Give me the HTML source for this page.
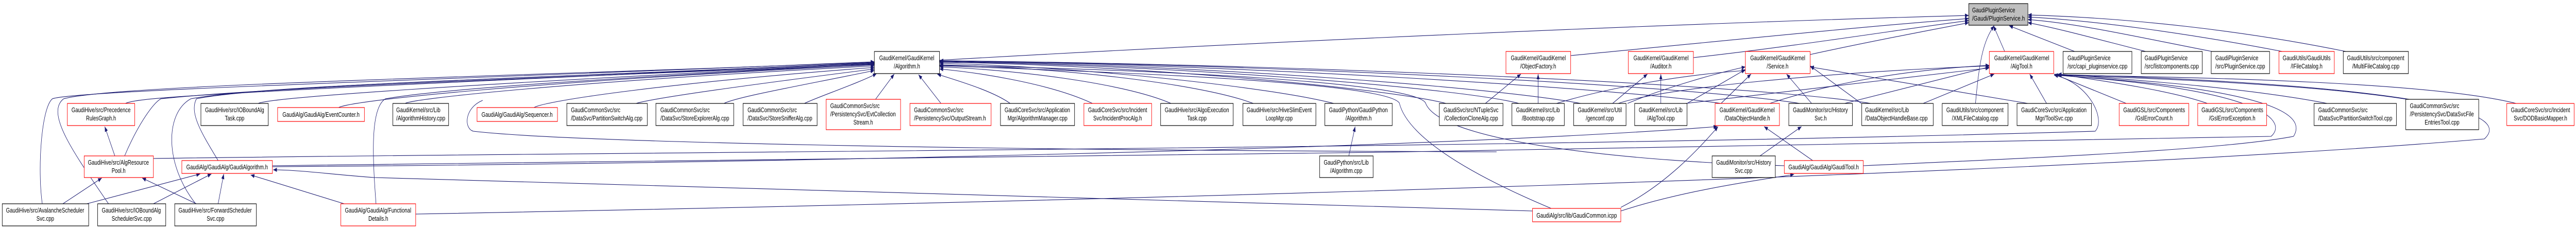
<!DOCTYPE html>
<html><head><meta charset="utf-8"><style>
html,body{margin:0;padding:0;background:#fff;width:100%;height:100%;overflow:hidden;}
svg{display:block;width:100vw;height:100vh;}
text{font-family:"Liberation Sans",Arial,sans-serif;font-size:13px;fill:#000;}
.e{fill:none;stroke:#191970;stroke-width:1.1;}
.b{fill:#fff;stroke:#000;stroke-width:1.2;}
.r{fill:#fff;stroke:#ff0000;stroke-width:1.2;}
</style></head><body>
<svg viewBox="0 0 6885 445" preserveAspectRatio="none" xmlns="http://www.w3.org/2000/svg">
<defs><marker id="a" markerWidth="11" markerHeight="8" refX="10" refY="4" orient="auto" markerUnits="userSpaceOnUse"><path d="M0,0 L10,4 L0,8 z" fill="#191970"/></marker></defs>
<g class="e" marker-end="url(#a)">
<path d="M2511,117 C3400,80 4500,45 5262,30"/>
<path d="M4198,108 C4600,80 5000,50 5262,36"/>
<path d="M4526,112 C4800,90 5100,55 5262,40"/>
<path d="M4838,106 C5000,80 5150,60 5262,44"/>
<path d="M5358,100 L5328,50"/>
<path d="M5545,100 L5370,50"/>
<path d="M5735,100 C5600,75 5500,55 5420,44"/>
<path d="M5912,100 C5700,70 5550,45 5420,38"/>
<path d="M6100,100 C5850,65 5600,40 5420,33"/>
<path d="M6270,100 C6000,60 5700,35 5420,29"/>
<path d="M5280,201 C5290,120 5300,80 5330,50"/>
<path d="M335,201 C370,188 600,180 2337,122"/>
<path d="M690,201 C720,190 1200,165 2337,124"/>
<path d="M905,209 C940,195 1400,160 2337,126"/>
<path d="M1083,201 C1100,192 1500,160 2337,128"/>
<path d="M1427,209 C1460,195 1800,160 2337,131"/>
<path d="M1700,201 C1750,190 2000,165 2337,134"/>
<path d="M1935,201 C1970,188 2150,165 2337,137"/>
<path d="M2150,201 C2180,190 2300,160 2343,143"/>
<path d="M2340,193 L2390,144"/>
<path d="M2515,201 L2455,145"/>
<path d="M2700,201 C2650,175 2550,155 2505,144"/>
<path d="M2920,201 C2800,160 2600,140 2511,134"/>
<path d="M3130,201 C3000,160 2700,135 2511,130"/>
<path d="M3350,201 C3200,160 2800,130 2511,126"/>
<path d="M3565,201 C3400,170 2900,130 2511,123"/>
<path d="M3865,201 C3700,170 3000,125 2511,121"/>
<path d="M4060,201 C3900,170 3100,125 2511,120"/>
<path d="M4225,201 C4000,170 3200,125 2511,119"/>
<path d="M4600,201 C4300,170 3300,125 2511,118"/>
<path d="M4810,201 C4500,165 3400,125 2511,118"/>
<path d="M5000,201 C4700,165 3500,125 2511,118"/>
<path d="M113,396 C100,330 110,210 140,192 C200,175 1200,155 2337,120"/>
<path d="M290,396 C200,300 120,220 170,192 C300,165 1300,150 2337,121"/>
<path d="M523,396 C440,320 440,220 510,192 C700,165 1500,150 2337,122"/>
<path d="M583,312 C540,260 505,220 525,192 C700,165 1500,150 2337,123"/>
<path d="M1005,396 C995,300 990,210 1030,192 C1200,170 1700,150 2337,124"/>
<path d="M333,303 C370,240 410,200 430,192 C700,170 1500,150 2337,125"/>
<path d="M4146,405 C3900,330 3760,260 3740,200 C3700,160 3000,140 2511,128"/>
<path d="M4769,322 C4400,315 3850,280 3810,200 C3780,160 3100,135 2511,127"/>
<path d="M3970,201 L4065,144"/>
<path d="M4111,201 L4111,144"/>
<path d="M4310,201 L4403,144"/>
<path d="M4439,201 L4439,144"/>
<path d="M4350,201 C4450,170 4600,140 4665,130"/>
<path d="M4509,201 L4665,135"/>
<path d="M4160,201 C4300,170 4500,145 4665,137"/>
<path d="M4600,201 L4680,144"/>
<path d="M4842,201 L4775,144"/>
<path d="M4975,201 L4838,128"/>
<path d="M5420,201 L4838,130"/>
<path d="M4325,201 C4450,170 4900,140 5317,128"/>
<path d="M4930,201 L5317,130"/>
<path d="M5140,201 L5330,144"/>
<path d="M5470,201 L5425,144"/>
<path d="M4730,201 C4900,160 5100,135 5317,127"/>
<path d="M4505,201 L5317,132"/>
<path d="M5683,201 L5490,144"/>
<path d="M5900,201 C5800,175 5600,155 5500,144"/>
<path d="M6220,201 C6000,170 5700,155 5500,144"/>
<path d="M6440,193 C6200,165 5800,150 5500,145"/>
<path d="M6725,201 C6500,160 5900,150 5500,146"/>
<path d="M410,308 C1500,296 4000,290 5600,255 C5630,230 5580,160 5490,146"/>
<path d="M728,322 C2000,315 4500,290 6070,265 C6110,240 6080,175 5490,146"/>
<path d="M4980,322 C5500,305 5950,290 6130,265 C6160,230 6120,175 5490,146"/>
<path d="M1111,416 C3000,390 5500,340 6640,270 C6700,230 6600,170 5490,146"/>
<path d="M307,303 L280,246"/>
<path d="M168,396 L272,346"/>
<path d="M232,396 L535,338"/>
<path d="M410,396 L565,338"/>
<path d="M525,396 L380,346"/>
<path d="M583,396 L598,338"/>
<path d="M920,396 L670,340"/>
<path d="M4096,410 C3000,395 2000,370 1000,345 C900,340 800,330 730,330"/>
<path d="M3605,303 L3622,246"/>
<path d="M4704,303 L4815,246"/>
<path d="M4845,312 L4715,246"/>
<path d="M728,324 C2000,318 3800,290 4590,246"/>
<path d="M4332,403 C4450,360 4540,290 4592,246"/>
<path d="M4332,410 C4500,370 4700,350 4795,339"/>
</g>
<path class="e" d="M1290,195 C1240,210 1240,250 1265,255 C1500,275 2500,292 4000,295"/>
<rect x="5262" y="7" width="158" height="42" fill="#bfbfbf" stroke="#000" stroke-width="1.2"/>
<text x="5271" y="24" textLength="115" lengthAdjust="spacingAndGlyphs">GaudiPluginService</text>
<text x="5271" y="40" textLength="141" lengthAdjust="spacingAndGlyphs">/Gaudi/PluginService.h</text>
<rect class="b" x="2337" y="100" width="174" height="43"/>
<text x="2350" y="117" textLength="147" lengthAdjust="spacingAndGlyphs">GaudiKernel/GaudiKernel</text>
<text x="2424" y="133" text-anchor="middle" textLength="70" lengthAdjust="spacingAndGlyphs">/Algorithm.h</text>
<rect class="r" x="4025" y="100" width="173" height="43"/>
<text x="4038" y="117" textLength="147" lengthAdjust="spacingAndGlyphs">GaudiKernel/GaudiKernel</text>
<text x="4111" y="133" text-anchor="middle" textLength="96" lengthAdjust="spacingAndGlyphs">/ObjectFactory.h</text>
<rect class="r" x="4352" y="100" width="174" height="43"/>
<text x="4366" y="117" textLength="147" lengthAdjust="spacingAndGlyphs">GaudiKernel/GaudiKernel</text>
<text x="4439" y="133" text-anchor="middle" textLength="57" lengthAdjust="spacingAndGlyphs">/Auditor.h</text>
<rect class="r" x="4665" y="100" width="173" height="43"/>
<text x="4678" y="117" textLength="147" lengthAdjust="spacingAndGlyphs">GaudiKernel/GaudiKernel</text>
<text x="4751" y="133" text-anchor="middle" textLength="58" lengthAdjust="spacingAndGlyphs">/Service.h</text>
<rect class="r" x="5317" y="100" width="172" height="43"/>
<text x="5330" y="117" textLength="147" lengthAdjust="spacingAndGlyphs">GaudiKernel/GaudiKernel</text>
<text x="5403" y="133" text-anchor="middle" textLength="58" lengthAdjust="spacingAndGlyphs">/AlgTool.h</text>
<rect class="b" x="5514" y="100" width="184" height="43"/>
<text x="5526" y="117" textLength="115" lengthAdjust="spacingAndGlyphs">GaudiPluginService</text>
<text x="5526" y="133" textLength="160" lengthAdjust="spacingAndGlyphs">/src/capi_pluginservice.cpp</text>
<rect class="b" x="5723" y="100" width="163" height="43"/>
<text x="5732" y="117" textLength="115" lengthAdjust="spacingAndGlyphs">GaudiPluginService</text>
<text x="5732" y="133" textLength="145" lengthAdjust="spacingAndGlyphs">/src/listcomponents.cpp</text>
<rect class="b" x="5910" y="100" width="156" height="43"/>
<text x="5921" y="117" textLength="115" lengthAdjust="spacingAndGlyphs">GaudiPluginService</text>
<text x="5921" y="133" textLength="133" lengthAdjust="spacingAndGlyphs">/src/PluginService.cpp</text>
<rect class="r" x="6091" y="100" width="148" height="43"/>
<text x="6101" y="117" textLength="128" lengthAdjust="spacingAndGlyphs">GaudiUtils/GaudiUtils</text>
<text x="6165" y="133" text-anchor="middle" textLength="85" lengthAdjust="spacingAndGlyphs">/IFileCatalog.h</text>
<rect class="b" x="6263" y="100" width="174" height="43"/>
<text x="6273" y="117" textLength="153" lengthAdjust="spacingAndGlyphs">GaudiUtils/src/component</text>
<text x="6350" y="133" text-anchor="middle" textLength="126" lengthAdjust="spacingAndGlyphs">/MultiFileCatalog.cpp</text>
<rect class="r" x="180" y="201" width="180" height="43"/>
<text x="191" y="218" textLength="158" lengthAdjust="spacingAndGlyphs">GaudiHive/src/Precedence</text>
<text x="270" y="234" text-anchor="middle" textLength="80" lengthAdjust="spacingAndGlyphs">RulesGraph.h</text>
<rect class="b" x="537" y="201" width="180" height="43"/>
<text x="548" y="218" textLength="158" lengthAdjust="spacingAndGlyphs">GaudiHive/src/IOBoundAlg</text>
<text x="627" y="234" text-anchor="middle" textLength="52" lengthAdjust="spacingAndGlyphs">Task.cpp</text>
<rect class="r" x="742" y="209" width="232" height="27"/>
<text x="858" y="227" text-anchor="middle" textLength="206" lengthAdjust="spacingAndGlyphs">GaudiAlg/GaudiAlg/EventCounter.h</text>
<rect class="b" x="1050" y="201" width="149" height="43"/>
<text x="1059" y="218" textLength="118" lengthAdjust="spacingAndGlyphs">GaudiKernel/src/Lib</text>
<text x="1059" y="234" textLength="131" lengthAdjust="spacingAndGlyphs">/AlgorithmHistory.cpp</text>
<rect class="r" x="1275" y="209" width="215" height="27"/>
<text x="1382" y="227" text-anchor="middle" textLength="190" lengthAdjust="spacingAndGlyphs">GaudiAlg/GaudiAlg/Sequencer.h</text>
<rect class="b" x="1515" y="201" width="215" height="43"/>
<text x="1526" y="218" textLength="132" lengthAdjust="spacingAndGlyphs">GaudiCommonSvc/src</text>
<text x="1526" y="234" textLength="191" lengthAdjust="spacingAndGlyphs">/DataSvc/PartitionSwitchAlg.cpp</text>
<rect class="b" x="1753" y="201" width="208" height="43"/>
<text x="1765" y="218" textLength="132" lengthAdjust="spacingAndGlyphs">GaudiCommonSvc/src</text>
<text x="1765" y="234" textLength="184" lengthAdjust="spacingAndGlyphs">/DataSvc/StoreExplorerAlg.cpp</text>
<rect class="b" x="1986" y="201" width="198" height="43"/>
<text x="1998" y="218" textLength="132" lengthAdjust="spacingAndGlyphs">GaudiCommonSvc/src</text>
<text x="1998" y="234" textLength="173" lengthAdjust="spacingAndGlyphs">/DataSvc/StoreSnifferAlg.cpp</text>
<rect class="r" x="2208" y="193" width="199" height="59"/>
<text x="2219" y="210" textLength="132" lengthAdjust="spacingAndGlyphs">GaudiCommonSvc/src</text>
<text x="2219" y="226" textLength="175" lengthAdjust="spacingAndGlyphs">/PersistencySvc/EvtCollection</text>
<text x="2307" y="242" text-anchor="middle" textLength="52" lengthAdjust="spacingAndGlyphs">Stream.h</text>
<rect class="r" x="2432" y="201" width="217" height="43"/>
<text x="2443" y="218" textLength="132" lengthAdjust="spacingAndGlyphs">GaudiCommonSvc/src</text>
<text x="2443" y="234" textLength="192" lengthAdjust="spacingAndGlyphs">/PersistencySvc/OutputStream.h</text>
<rect class="b" x="2674" y="201" width="198" height="43"/>
<text x="2685" y="218" textLength="175" lengthAdjust="spacingAndGlyphs">GaudiCoreSvc/src/Application</text>
<text x="2773" y="234" text-anchor="middle" textLength="160" lengthAdjust="spacingAndGlyphs">Mgr/AlgorithmManager.cpp</text>
<rect class="r" x="2897" y="201" width="181" height="43"/>
<text x="2908" y="218" textLength="158" lengthAdjust="spacingAndGlyphs">GaudiCoreSvc/src/Incident</text>
<text x="2987" y="234" text-anchor="middle" textLength="130" lengthAdjust="spacingAndGlyphs">Svc/IncidentProcAlg.h</text>
<rect class="b" x="3102" y="201" width="194" height="43"/>
<text x="3113" y="218" textLength="172" lengthAdjust="spacingAndGlyphs">GaudiHive/src/AlgoExecution</text>
<text x="3199" y="234" text-anchor="middle" textLength="52" lengthAdjust="spacingAndGlyphs">Task.cpp</text>
<rect class="b" x="3322" y="201" width="195" height="43"/>
<text x="3332" y="218" textLength="174" lengthAdjust="spacingAndGlyphs">GaudiHive/src/HiveSlimEvent</text>
<text x="3419" y="234" text-anchor="middle" textLength="72" lengthAdjust="spacingAndGlyphs">LoopMgr.cpp</text>
<rect class="b" x="3541" y="201" width="180" height="43"/>
<text x="3552" y="218" textLength="157" lengthAdjust="spacingAndGlyphs">GaudiPython/GaudiPython</text>
<text x="3631" y="234" text-anchor="middle" textLength="70" lengthAdjust="spacingAndGlyphs">/Algorithm.h</text>
<rect class="b" x="3847" y="201" width="170" height="43"/>
<text x="3858" y="218" textLength="147" lengthAdjust="spacingAndGlyphs">GaudiSvc/src/NTupleSvc</text>
<text x="3932" y="234" text-anchor="middle" textLength="144" lengthAdjust="spacingAndGlyphs">/CollectionCloneAlg.cpp</text>
<rect class="b" x="4041" y="201" width="140" height="43"/>
<text x="4052" y="218" textLength="117" lengthAdjust="spacingAndGlyphs">GaudiKernel/src/Lib</text>
<text x="4111" y="234" text-anchor="middle" textLength="87" lengthAdjust="spacingAndGlyphs">/Bootstrap.cpp</text>
<rect class="b" x="4206" y="201" width="140" height="43"/>
<text x="4217" y="218" textLength="118" lengthAdjust="spacingAndGlyphs">GaudiKernel/src/Util</text>
<text x="4276" y="234" text-anchor="middle" textLength="75" lengthAdjust="spacingAndGlyphs">/genconf.cpp</text>
<rect class="b" x="4369" y="201" width="140" height="43"/>
<text x="4380" y="218" textLength="117" lengthAdjust="spacingAndGlyphs">GaudiKernel/src/Lib</text>
<text x="4439" y="234" text-anchor="middle" textLength="74" lengthAdjust="spacingAndGlyphs">/AlgTool.cpp</text>
<rect class="r" x="4584" y="201" width="172" height="43"/>
<text x="4596" y="218" textLength="147" lengthAdjust="spacingAndGlyphs">GaudiKernel/GaudiKernel</text>
<text x="4670" y="234" text-anchor="middle" textLength="122" lengthAdjust="spacingAndGlyphs">/DataObjectHandle.h</text>
<rect class="b" x="4781" y="201" width="170" height="43"/>
<text x="4792" y="218" textLength="147" lengthAdjust="spacingAndGlyphs">GaudiMonitor/src/History</text>
<text x="4866" y="234" text-anchor="middle" textLength="32" lengthAdjust="spacingAndGlyphs">Svc.h</text>
<rect class="b" x="4976" y="201" width="191" height="43"/>
<text x="4985" y="218" textLength="117" lengthAdjust="spacingAndGlyphs">GaudiKernel/src/Lib</text>
<text x="4985" y="234" textLength="167" lengthAdjust="spacingAndGlyphs">/DataObjectHandleBase.cpp</text>
<rect class="b" x="5191" y="201" width="176" height="43"/>
<text x="5202" y="218" textLength="153" lengthAdjust="spacingAndGlyphs">GaudiUtils/src/component</text>
<text x="5279" y="234" text-anchor="middle" textLength="124" lengthAdjust="spacingAndGlyphs">/XMLFileCatalog.cpp</text>
<rect class="b" x="5391" y="201" width="199" height="43"/>
<text x="5402" y="218" textLength="175" lengthAdjust="spacingAndGlyphs">GaudiCoreSvc/src/Application</text>
<text x="5490" y="234" text-anchor="middle" textLength="100" lengthAdjust="spacingAndGlyphs">Mgr/ToolSvc.cpp</text>
<rect class="r" x="5664" y="201" width="186" height="43"/>
<text x="5675" y="218" textLength="165" lengthAdjust="spacingAndGlyphs">GaudiGSL/src/Components</text>
<text x="5757" y="234" text-anchor="middle" textLength="100" lengthAdjust="spacingAndGlyphs">/GslErrorCount.h</text>
<rect class="r" x="5874" y="201" width="184" height="43"/>
<text x="5884" y="218" textLength="165" lengthAdjust="spacingAndGlyphs">GaudiGSL/src/Components</text>
<text x="5966" y="234" text-anchor="middle" textLength="124" lengthAdjust="spacingAndGlyphs">/GslErrorException.h</text>
<rect class="b" x="6185" y="201" width="220" height="43"/>
<text x="6196" y="218" textLength="132" lengthAdjust="spacingAndGlyphs">GaudiCommonSvc/src</text>
<text x="6196" y="234" textLength="198" lengthAdjust="spacingAndGlyphs">/DataSvc/PartitionSwitchTool.cpp</text>
<rect class="b" x="6430" y="193" width="195" height="59"/>
<text x="6441" y="210" textLength="132" lengthAdjust="spacingAndGlyphs">GaudiCommonSvc/src</text>
<text x="6441" y="226" textLength="171" lengthAdjust="spacingAndGlyphs">/PersistencySvc/DataSvcFile</text>
<text x="6527" y="242" text-anchor="middle" textLength="93" lengthAdjust="spacingAndGlyphs">EntriesTool.cpp</text>
<rect class="r" x="6700" y="201" width="180" height="43"/>
<text x="6711" y="218" textLength="158" lengthAdjust="spacingAndGlyphs">GaudiCoreSvc/src/Incident</text>
<text x="6790" y="234" text-anchor="middle" textLength="143" lengthAdjust="spacingAndGlyphs">Svc/DODBasicMapper.h</text>
<rect class="r" x="225" y="303" width="185" height="42"/>
<text x="235" y="320" textLength="163" lengthAdjust="spacingAndGlyphs">GaudiHive/src/AlgResource</text>
<text x="317" y="336" text-anchor="middle" textLength="37" lengthAdjust="spacingAndGlyphs">Pool.h</text>
<rect class="r" x="486" y="312" width="242" height="25"/>
<text x="607" y="329" text-anchor="middle" textLength="218" lengthAdjust="spacingAndGlyphs">GaudiAlg/GaudiAlg/GaudiAlgorithm.h</text>
<rect class="b" x="3527" y="303" width="143" height="42"/>
<text x="3538" y="320" textLength="120" lengthAdjust="spacingAndGlyphs">GaudiPython/src/Lib</text>
<text x="3598" y="336" text-anchor="middle" textLength="86" lengthAdjust="spacingAndGlyphs">/Algorithm.cpp</text>
<rect class="b" x="4576" y="303" width="169" height="42"/>
<text x="4587" y="320" textLength="147" lengthAdjust="spacingAndGlyphs">GaudiMonitor/src/History</text>
<text x="4660" y="336" text-anchor="middle" textLength="47" lengthAdjust="spacingAndGlyphs">Svc.cpp</text>
<rect class="r" x="4769" y="312" width="211" height="25"/>
<text x="4874" y="329" text-anchor="middle" textLength="188" lengthAdjust="spacingAndGlyphs">GaudiAlg/GaudiAlg/GaudiTool.h</text>
<rect class="b" x="6" y="396" width="231" height="43"/>
<text x="16" y="413" textLength="209" lengthAdjust="spacingAndGlyphs">GaudiHive/src/AvalancheScheduler</text>
<text x="121" y="429" text-anchor="middle" textLength="47" lengthAdjust="spacingAndGlyphs">Svc.cpp</text>
<rect class="b" x="261" y="396" width="182" height="43"/>
<text x="272" y="413" textLength="158" lengthAdjust="spacingAndGlyphs">GaudiHive/src/IOBoundAlg</text>
<text x="352" y="429" text-anchor="middle" textLength="107" lengthAdjust="spacingAndGlyphs">SchedulerSvc.cpp</text>
<rect class="b" x="467" y="396" width="218" height="43"/>
<text x="477" y="413" textLength="196" lengthAdjust="spacingAndGlyphs">GaudiHive/src/ForwardScheduler</text>
<text x="576" y="429" text-anchor="middle" textLength="47" lengthAdjust="spacingAndGlyphs">Svc.cpp</text>
<rect class="r" x="911" y="396" width="200" height="43"/>
<text x="922" y="413" textLength="177" lengthAdjust="spacingAndGlyphs">GaudiAlg/GaudiAlg/Functional</text>
<text x="1011" y="429" text-anchor="middle" textLength="53" lengthAdjust="spacingAndGlyphs">Details.h</text>
<rect class="r" x="4096" y="405" width="236" height="26"/>
<text x="4214" y="423" text-anchor="middle" textLength="215" lengthAdjust="spacingAndGlyphs">GaudiAlg/src/lib/GaudiCommon.icpp</text>
</svg>
</body></html>
